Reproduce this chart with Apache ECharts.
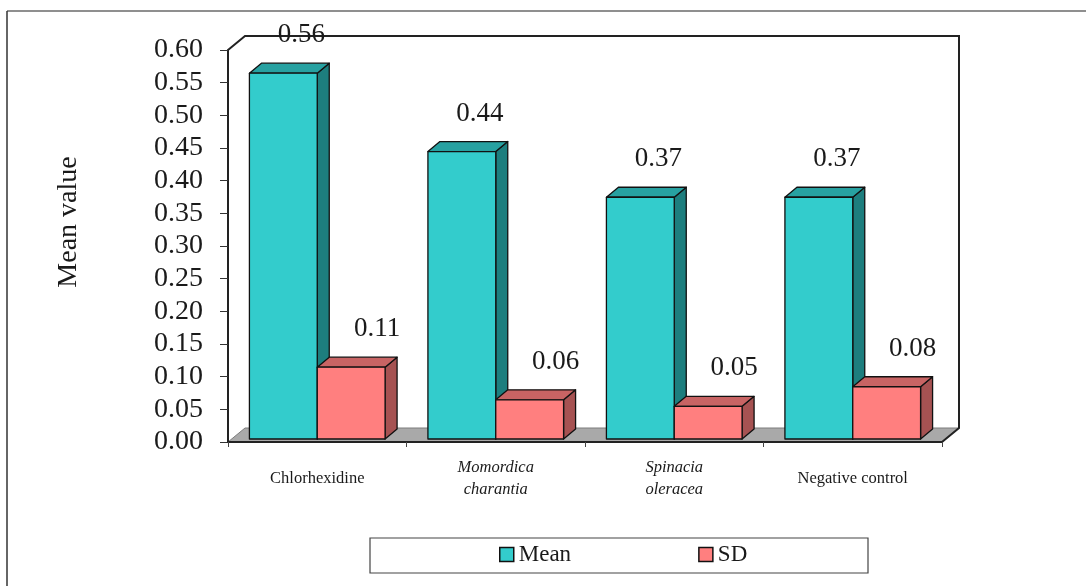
<!DOCTYPE html>
<html>
<head>
<meta charset="utf-8">
<script src="https://cdn.jsdelivr.net/npm/echarts@6/dist/echarts.min.js"></script>
<style>
  html, body { margin: 0; padding: 0; background: #ffffff; }
  #chart { width: 1086px; height: 586px; }
</style>
</head>
<body>
<div id="chart"></div>
<script>
// Groups on the category axis (second and third are plant names, set in italics)
var categories = ['Chlorhexidine', 'Momordica\ncharantia', 'Spinacia\noleracea', 'Negative control'];
var italicCategories = [false, true, true, false];

// Series values
var meanValues = [0.56, 0.44, 0.37, 0.37];
var sdValues = [0.11, 0.06, 0.05, 0.08];

// Value axis range and step
var yMin = 0, yMax = 0.60, yStep = 0.05;

var FONT = 'Liberation Serif, Times New Roman, serif';
var TEXT = '#1a1a1a';

// pseudo-3D depth of the box (wall/floor) and of each bar
var BOX_DX = 17, BOX_DY = -14;
var BAR_DX = 12, BAR_DY = -10;
var BAR_LIFT = -3;        // bars stand slightly behind the floor's front edge
var BAR_RATIO = 0.38;     // bar width as a share of the category band

function toData(values) {
  return values.map(function (v, i) { return [i, v]; });
}

function barRenderer(isRight, front, topFace, sideFace, labelShift) {
  return function (params, api) {
    var cat = api.value(0), val = api.value(1);
    var base = api.coord([cat, 0]);
    var tip = api.coord([cat, val]);
    var band = api.size([1, 0])[0];
    var w = band * BAR_RATIO;
    var x0 = isRight ? base[0] : base[0] - w;
    var x1 = x0 + w;
    var yb = base[1] + BAR_LIFT, yt = tip[1] + BAR_LIFT;
    var edge = { stroke: '#111', lineWidth: 1.3, lineJoin: 'round' };
    return {
      type: 'group',
      children: [
        {
          type: 'polygon',
          shape: { points: [[x1, yt], [x1 + BAR_DX, yt + BAR_DY], [x1 + BAR_DX, yb + BAR_DY], [x1, yb]] },
          style: Object.assign({ fill: sideFace }, edge)
        },
        {
          type: 'polygon',
          shape: { points: [[x0, yt], [x0 + BAR_DX, yt + BAR_DY], [x1 + BAR_DX, yt + BAR_DY], [x1, yt]] },
          style: Object.assign({ fill: topFace }, edge)
        },
        {
          type: 'rect',
          shape: { x: x0, y: yt, width: w, height: yb - yt },
          style: Object.assign({ fill: front }, edge)
        },
        {
          type: 'text',
          x: (x0 + x1) / 2 + labelShift,
          y: yt - 38,
          style: {
            text: val.toFixed(2),
            font: '27px ' + FONT,
            fill: TEXT,
            align: 'center',
            verticalAlign: 'middle'
          }
        }
      ]
    };
  };
}

// back wall outline and grey floor of the 3D box
function boxRenderer(params, api) {
  var cs = params.coordSys;
  var x = cs.x, y = cs.y, w = cs.width, h = cs.height;
  return {
    type: 'group',
    children: [
      {
        type: 'polygon',
        shape: { points: [[x, y + h], [x + BOX_DX, y + h + BOX_DY], [x + w + BOX_DX, y + h + BOX_DY], [x + w, y + h]] },
        style: { fill: '#a9a9a9', stroke: '#7d7d7d', lineWidth: 1 }
      },
      {
        type: 'polyline',
        shape: { points: [[x, y], [x + BOX_DX, y + BOX_DY], [x + w + BOX_DX, y + BOX_DY], [x + w + BOX_DX, y + h + BOX_DY], [x + w, y + h]] },
        style: { fill: null, stroke: '#222', lineWidth: 2 }
      }
    ]
  };
}

var chart = echarts.init(document.getElementById('chart'));

chart.setOption({
  backgroundColor: '#ffffff',
  animation: false,
  textStyle: { fontFamily: FONT, color: TEXT },
  grid: { left: 228, right: 144, top: 50, bottom: 144, containLabel: false },
  graphic: [
    { type: 'line', shape: { x1: 7, y1: 11, x2: 1086, y2: 11 }, style: { stroke: '#8f8f8f', lineWidth: 2 } },
    { type: 'line', shape: { x1: 7, y1: 11, x2: 7, y2: 586 }, style: { stroke: '#333', lineWidth: 1.5 } },
    { type: 'rect', shape: { x: 370, y: 538, width: 498, height: 35 }, style: { fill: null, stroke: '#444', lineWidth: 1.2 } }
  ],
  legend: {
    data: ['Mean', 'SD'],
    left: 499,
    top: 543,
    padding: 0,
    itemGap: 127,
    itemWidth: 14,
    itemHeight: 14,
    icon: 'rect',
    itemStyle: { borderColor: '#111', borderWidth: 1.5 },
    textStyle: { fontFamily: FONT, fontSize: 23, color: TEXT, padding: [2, 0, 0, 0] }
  },
  xAxis: {
    type: 'category',
    data: categories,
    boundaryGap: true,
    z: 5,
    axisLine: { show: true, lineStyle: { color: '#222', width: 2 } },
    axisTick: { show: true, length: 5, lineStyle: { color: '#444' } },
    axisLabel: {
      margin: 37,
      verticalAlign: 'middle',
      fontFamily: FONT,
      fontSize: 16.5,
      lineHeight: 22,
      color: TEXT,
      formatter: function (value, idx) {
        if (!italicCategories[idx]) return value;
        return value.split('\n').map(function (s) { return '{i|' + s + '}'; }).join('\n');
      },
      rich: { i: { fontStyle: 'italic', fontFamily: FONT, fontSize: 16.5, lineHeight: 22, color: TEXT } }
    },
    splitLine: { show: false }
  },
  yAxis: {
    type: 'value',
    min: yMin,
    max: yMax,
    interval: yStep,
    name: 'Mean value',
    nameLocation: 'middle',
    nameRotate: 90,
    nameGap: 145,
    nameTextStyle: { fontFamily: FONT, fontSize: 28, color: TEXT, padding: [0, 0, 0, 48] },
    axisLine: { show: true, lineStyle: { color: '#222', width: 2 } },
    axisTick: { show: true, length: 8, lineStyle: { color: '#333' } },
    axisLabel: {
      margin: 25,
      fontFamily: FONT,
      fontSize: 28,
      color: TEXT,
      formatter: function (v) { return v.toFixed(2); }
    },
    splitLine: { show: false }
  },
  series: [
    {
      name: 'box',
      type: 'custom',
      silent: true,
      z: 1,
      data: [[0, 0]],
      renderItem: boxRenderer
    },
    {
      name: 'Mean',
      type: 'custom',
      z: 2,
      itemStyle: { color: '#33cccc' },
      encode: { x: 0, y: 1 },
      data: toData(meanValues),
      renderItem: barRenderer(false, '#33cccc', '#27a1a1', '#1d7e7e', 18)
    },
    {
      name: 'SD',
      type: 'custom',
      z: 3,
      itemStyle: { color: '#ff7f7f' },
      encode: { x: 0, y: 1 },
      data: toData(sdValues),
      renderItem: barRenderer(true, '#ff7f7f', '#c86464', '#a65252', 26)
    }
  ]
});
</script>
</body>
</html>
